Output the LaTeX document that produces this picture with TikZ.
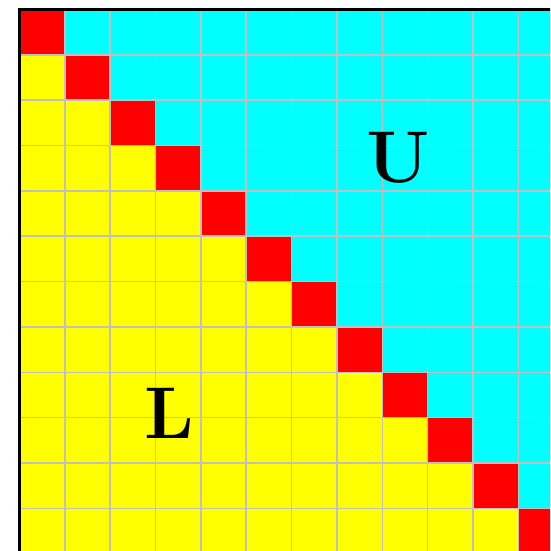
\documentclass[tikz,border=0pt]{standalone}
\usepackage{fontspec}
\definecolor{diagred}{RGB}{255,0,0}
\definecolor{uppercyan}{RGB}{0,255,255}
\definecolor{loweryellow}{RGB}{255,255,0}
\definecolor{gridgray}{RGB}{192,192,192}
\begin{document}
\begin{tikzpicture}[x=1cm,y=-1cm,
  cell/.style={draw=gridgray,line width=1pt},
  big/.style={font=\fontsize{46}{50}\selectfont\bfseries}]
  \useasboundingbox (-0.43,-0.21) rectangle (11.7,11.94);
  \clip (-0.43,-0.21) rectangle (11.7,11.94);
  % cells of the matrix
  \foreach \i in {0,...,11}{
    \foreach \j in {0,...,11}{
      \ifnum\i=\j \def\c{diagred}\else\ifnum\i>\j \def\c{loweryellow}\else\def\c{uppercyan}\fi\fi
      \filldraw[cell,fill=\c] (\j,\i) rectangle ++(1,1);
    }
  }
  \draw[line width=2pt] (0,0) rectangle (12,12);
  \node[big] (U) at (8.35,3.27) {U};
  \node[big] (L) at (3.30,8.90) {L};
\end{tikzpicture}
\end{document}
